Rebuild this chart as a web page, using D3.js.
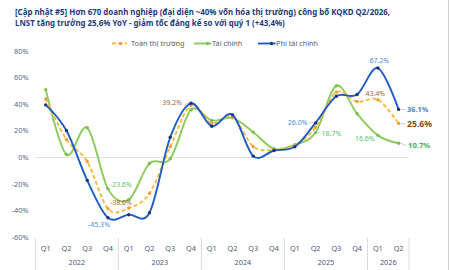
<!DOCTYPE html>
<html lang="vi">
<head>
<meta charset="utf-8">
<script src="https://d3js.org/d3.v7.min.js"></script>
<style>
  body { margin: 0; background: #fff; font-family: "Noto Sans", "DejaVu Sans", sans-serif; }
  svg { display: block; }
</style>
</head>
<body>
<script>
// quarter + year categories
const quarters = ["Q1","Q2","Q3","Q4","Q1","Q2","Q3","Q4","Q1","Q2","Q3","Q4","Q1","Q2","Q3","Q4","Q1","Q2"];
const years = ["2022","2023","2024","2025","2026"];
const yearSizes = [4, 4, 4, 4, 2];
const yTicks = [80, 60, 40, 20, 0, -20, -40, -60];

// LNST growth YoY (%) per quarter
const toanThiTruong = [44, 13.5, -3, -38.6, -38, -27, 8, 39.2, 25.7, 30.5, 8.2, 5.7, 9, 22.7, 49, 42, 43.4, 25.6];
const taiChinh      = [51, 2.2, 22.3, -23.6, -31.7, -4.5, -1, 35.8, 27.8, 29.8, 19, 6.5, 9.5, 18.7, 53.8, 32.8, 16.6, 10.7];
const phiTaiChinh   = [39.5, 20.2, -17.2, -45.3, -43, -41.5, 15.2, 40.7, 23.5, 32, 1, 5.2, 8, 26.0, 46, 47.3, 67.2, 36.1];

const W = 450, H = 270;
const svg = d3.select("body").append("svg").attr("width", W).attr("height", H);

// title
const title = svg.append("g").attr("font-weight", 700).attr("fill", "#1f3a7a").attr("font-size", "7.9px");
title.append("text").attr("x", 15).attr("y", 15)
  .text("[Cập nhật #5] Hơn 670 doanh nghiệp (đại diện ~40% vốn hóa thị trường) công bố KQKD Q2/2026,");
title.append("text").attr("x", 15).attr("y", 25.5)
  .text("LNST tăng trưởng 25,6% YoY -  giảm tốc đáng kể so với quý 1 (+43,4%)");

// right border
svg.append("line").attr("x1", 448.5).attr("x2", 448.5).attr("y1", 0).attr("y2", H)
  .attr("stroke", "#d0d0d0").attr("stroke-width", 1);

const idx = d3.range(quarters.length);
const x = d3.scaleBand().domain(idx).range([35.3, 409]);
const y = d3.scaleLinear().domain([-60, 80]).range([237.3, 51]);
const cx = i => x(i) + x.bandwidth() / 2;

// y labels
svg.append("g").selectAll("text").data(yTicks).join("text")
  .attr("x", 28.5).attr("y", d => y(d)).attr("dy", "0.35em")
  .attr("text-anchor", "end").attr("font-size", "7.3px").attr("fill", "#5b6780")
  .text(d => d + "%");

// zero line
svg.append("line").attr("x1", 35.3).attr("x2", 409).attr("y1", y(0)).attr("y2", y(0))
  .attr("stroke", "#e2e2e2").attr("stroke-width", 1);

// x axis: quarter labels
svg.append("g").selectAll("text").data(quarters).join("text")
  .attr("x", (d, i) => cx(i)).attr("y", 248).attr("dy", "0.35em")
  .attr("text-anchor", "middle").attr("font-size", "7.3px").attr("fill", "#4b5878")
  .text(d => d);

// year groups
let start = 0;
const groups = years.map((yr, k) => {
  const g = { yr, s: start, e: start + yearSizes[k] };
  start += yearSizes[k];
  return g;
});
const edges = [0].concat(groups.map(g => g.e));
svg.append("g").selectAll("line").data(edges).join("line")
  .attr("x1", d => d < quarters.length ? x(d) : x(quarters.length - 1) + x.bandwidth())
  .attr("x2", d => d < quarters.length ? x(d) : x(quarters.length - 1) + x.bandwidth())
  .attr("y1", 238).attr("y2", H)
  .attr("stroke", "#dcdcdc").attr("stroke-width", 1);
svg.append("g").selectAll("text").data(groups).join("text")
  .attr("x", g => (x(g.s) + x(g.e - 1) + x.bandwidth()) / 2).attr("y", 262).attr("dy", "0.35em")
  .attr("text-anchor", "middle").attr("font-size", "7.3px").attr("fill", "#4b5878")
  .text(g => g.yr);

// series
const series = [
  { name: "Toàn thị trường", values: toanThiTruong, color: "#f6b93c", marker: "#ef9f3c", dash: "4,2.5" },
  { name: "Tài chính", values: taiChinh, color: "#8dca5a", marker: "#79c04e", dash: null },
  { name: "Phi tài chính", values: phiTaiChinh, color: "#1f5bc8", marker: "#1b3577", dash: null }
];

const line = d3.line().x((d, i) => cx(i)).y(d => y(d)).curve(d3.curveCatmullRom.alpha(0));

// draw green then orange then blue
[series[1], series[0], series[2]].forEach(s => {
  svg.append("path").datum(s.values)
    .attr("d", line).attr("fill", "none")
    .attr("stroke", s.color).attr("stroke-width", 1.9)
    .attr("stroke-dasharray", s.dash);
  svg.append("g").selectAll("circle").data(s.values).join("circle")
    .attr("cx", (d, i) => cx(i)).attr("cy", d => y(d)).attr("r", 1.7)
    .attr("fill", s.marker);
});

// legend
const legendPos = [112, 194, 258];
const legend = svg.append("g");
series.forEach((s, k) => {
  const lx = legendPos[k], ly = 43.5;
  const lw = k === 0 ? 15 : 17.5;
  legend.append("line").attr("x1", lx).attr("x2", lx + lw).attr("y1", ly).attr("y2", ly)
    .attr("stroke", s.color).attr("stroke-width", 1.9).attr("stroke-dasharray", s.dash);
  legend.append("circle").attr("cx", k === 0 ? lx + 8.5 : lx + lw - 4).attr("cy", ly).attr("r", 1.7).attr("fill", s.marker);
  legend.append("text").attr("x", lx + lw + (k === 0 ? 4 : 0.5)).attr("y", ly).attr("dy", "0.35em")
    .attr("font-size", "7.3px").attr("fill", "#555c6a").text(s.name);
});

// data labels: [series index, point index, dx, dy, anchor, color, size, bold, leader]
const blueLbl = "#4a8ddb", brownLbl = "#a4633c", greenLbl = "#5bbf6b";
const labels = [
  [2, 3, 2, 7, "end", blueLbl, 7, false, null],
  [1, 3, 2, -4, "start", greenLbl, 7, false, null],
  [0, 3, 2, -6, "start", brownLbl, 7, false, null],
  [0, 7, -9, -3, "end", brownLbl, 7, false, [-7, -2]],
  [2, 13, -8, 0, "end", blueLbl, 7, false, [-7, -1.5]],
  [1, 13, 6, 0.5, "start", greenLbl, 7, false, [2, 5]],
  [2, 16, 1.5, -7.5, "middle", blueLbl, 7, false, null],
  [0, 16, -2.5, -6.3, "middle", brownLbl, 7, false, null],
  [1, 16, -13, 3.5, "middle", greenLbl, 7, false, null],
  [2, 17, 8.5, 0, "start", "#3f7fd6", 7.3, true, [2, 7]],
  [0, 17, 8.5, 0.5, "start", "#8a4a22", 8.6, true, [2, 7]],
  [1, 17, 9.5, 2.5, "start", "#3fae4f", 7.6, true, [2, 8]]
];
const lg = svg.append("g");
labels.forEach(([si, pi, dx, dy, anchor, col, fs, bold, leader]) => {
  const v = series[si].values[pi];
  const px = cx(pi), py = y(v);
  if (leader) {
    lg.append("line").attr("x1", px + leader[0]).attr("x2", px + leader[1])
      .attr("y1", py).attr("y2", py + dy)
      .attr("stroke", "#b8b8b8").attr("stroke-width", 0.7);
  }
  lg.append("text").attr("x", px + dx).attr("y", py + dy).attr("dy", "0.35em")
    .attr("text-anchor", anchor).attr("font-size", fs + "px")
    .attr("font-weight", bold ? 700 : 400).attr("fill", col)
    .text(v.toFixed(1) + "%");
});
</script>
</body>
</html>
